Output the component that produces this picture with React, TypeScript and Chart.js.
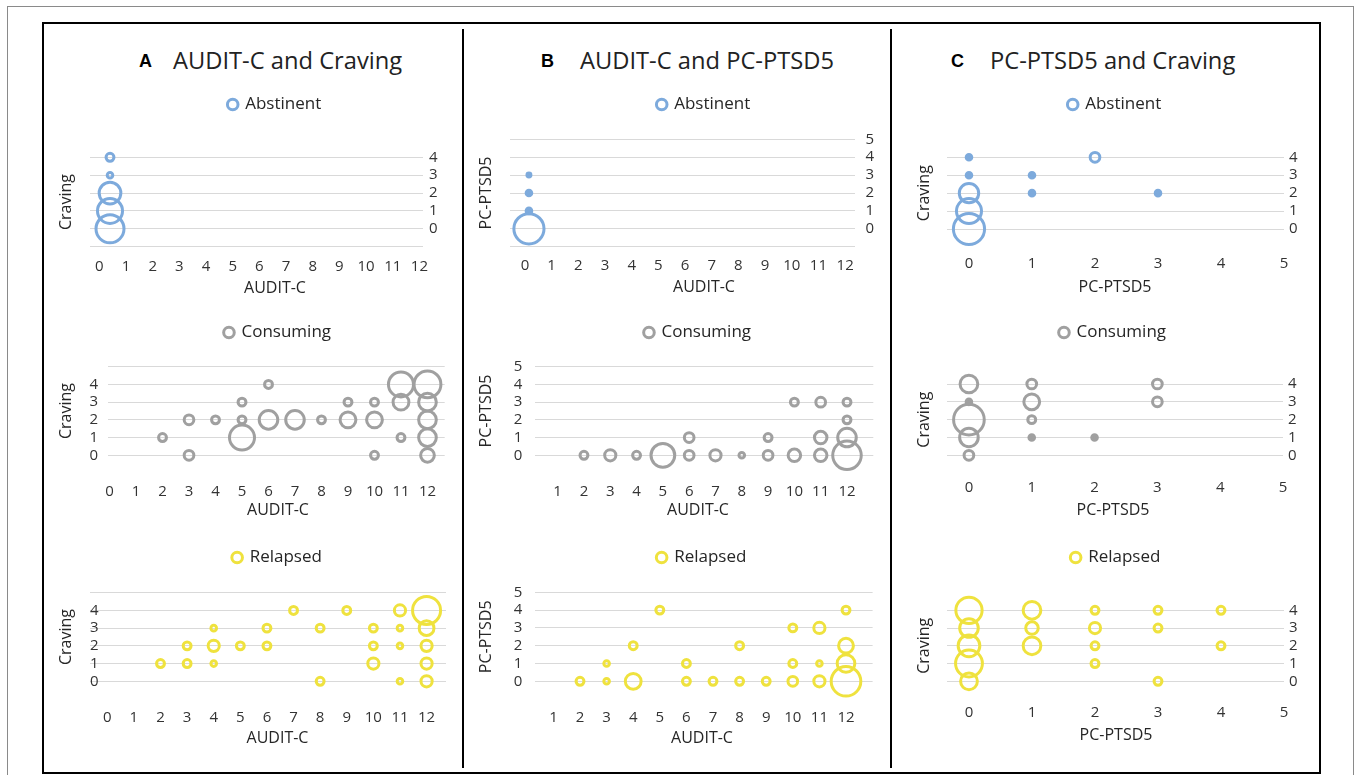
import React, { useEffect, useRef } from "react";
import { Chart, registerables } from "chart.js";

Chart.register(...registerables);

// ---------------- tick values / labels ----------------
const auditTicksA = [0, 1, 2, 3, 4, 5, 6, 7, 8, 9, 10, 11, 12];
const auditTicksB = [1, 2, 3, 4, 5, 6, 7, 8, 9, 10, 11, 12];
const ptsdTicks = [0, 1, 2, 3, 4, 5];
const gridA1 = [-1, 0, 1, 2, 3, 4];
const gridB1 = [-1, 0, 1, 2, 3, 4, 5];
const gridTo5 = [0, 1, 2, 3, 4, 5];
const gridTo4 = [0, 1, 2, 3, 4];
const cravingLabels = [0, 1, 2, 3, 4];
const ptsdLabels = [0, 1, 2, 3, 4, 5];

// ---------------- series (x, y, bubble size) ----------------
// A: AUDIT-C (x) vs Craving (y)
const aAbsX = [0.4, 0.4, 0.4, 0.4, 0.4];
const aAbsY = [4, 3, 2, 1, 0];
const aAbsN = [2, 1, 15, 20, 25];

const aConX = [2, 3, 3, 4, 5, 5, 5, 6, 6, 7, 8, 9, 9, 10, 10, 10, 11, 11, 11, 12, 12, 12, 12, 12];
const aConY = [1, 2, 0, 2, 3, 2, 1, 4, 2, 2, 2, 3, 2, 3, 2, 0, 4, 3, 1, 4, 3, 2, 1, 0];
const aConN = [2, 3, 3, 2, 2, 2, 20, 2, 11, 11, 2, 2, 8, 2, 8, 2, 20, 8, 2, 23, 10, 10, 10, 6];

const aRelX = [2, 3, 3, 4, 4, 4, 5, 6, 6, 7, 8, 8, 9, 10, 10, 10, 11, 11, 11, 11, 12, 12, 12, 12, 12];
const aRelY = [1, 2, 1, 3, 2, 1, 2, 3, 2, 4, 3, 0, 4, 3, 2, 1, 4, 3, 2, 0, 4, 3, 2, 1, 0];
const aRelN = [2, 2, 2, 1, 4, 1, 2, 2, 2, 2, 2, 2, 2, 2, 2, 4, 4, 1, 1, 1, 25, 7, 4, 4, 4];

// B: AUDIT-C (x) vs PC-PTSD5 (y)
const bAbsX = [0.15, 0.15, 0.15, 0.15];
const bAbsY = [3, 2, 1, 0];
const bAbsN = [0.5, 1, 1, 29];

const bConX = [2, 3, 4, 5, 6, 6, 7, 8, 9, 9, 10, 10, 11, 11, 11, 12, 12, 12, 12];
const bConY = [0, 0, 0, 0, 1, 0, 0, 0, 1, 0, 3, 0, 3, 1, 0, 3, 2, 1, 0];
const bConN = [2, 4, 2, 18, 3, 3, 4, 1, 2, 3, 2, 5, 3, 5, 5, 2, 2, 11, 26];

const bRelX = [2, 3, 3, 4, 4, 5, 6, 6, 7, 8, 8, 9, 10, 10, 10, 11, 11, 11, 12, 12, 12, 12];
const bRelY = [0, 1, 0, 2, 0, 4, 1, 0, 0, 2, 0, 0, 3, 1, 0, 3, 1, 0, 4, 2, 1, 0];
const bRelN = [2, 1, 1, 2, 8, 2, 2, 2, 2, 2, 2, 2, 2, 2, 3, 4, 1, 4, 2, 7, 10, 28];

// C: PC-PTSD5 (x) vs Craving (y)
const cAbsX = [0, 0, 0, 0, 0, 1, 1, 2, 3];
const cAbsY = [4, 3, 2, 1, 0, 3, 2, 4, 2];
const cAbsN = [1, 1, 12, 20, 31, 1, 1, 3, 1];

const cConX = [0, 0, 0, 0, 0, 1, 1, 1, 1, 2, 3, 3];
const cConY = [4, 3, 2, 1, 0, 4, 3, 2, 1, 1, 4, 3];
const cConN = [10, 1, 30, 11, 3, 3, 8, 2, 1, 1, 3, 3];

const cRelX = [0, 0, 0, 0, 0, 1, 1, 1, 2, 2, 2, 2, 3, 3, 3, 4, 4];
const cRelY = [4, 3, 2, 1, 0, 4, 3, 2, 4, 3, 2, 1, 4, 3, 0, 4, 2];
const cRelN = [22, 11, 15, 23, 9, 10, 5, 10, 2, 4, 2, 2, 2, 2, 2, 2, 2];

// ---------------- styles ----------------
const BLUE = "#7DAADC";
const GRAY = "#A0A0A0";
const YELLOW = "#EFE23E";
const GRID = "#D9D9D9";
const TEXT = "#262626";
const TICK = "#333333";
const FONT = "'Open Sans', sans-serif";
const FS_TICK = 15;
const FS_TITLE = 16;
const FS_LEG = 17;
const LEG_PAD = 4;
const TITLE_LH = FS_TITLE * 1.2;
const TICK_HALF = (FS_TICK * 1.2) / 2;
const R_K = 2.8; // bubble radius per sqrt(size)
const RING = 3;

Chart.defaults.font.family = FONT;

type Layout = {
  l: number; r: number; t: number; b: number;
  xMin: number; xMax: number;
  side: "left" | "right" | "mirror";
  tickPad: number; yTitleX: number; legendY: number; centerX: number;
  xLabelY: number; xTitleY: number;
};

type PanelCfg = {
  id: string; label: string; color: string;
  xs: number[]; ys: number[]; ns: number[];
  xTicks: number[]; yGrid: number[]; yLabels: number[];
  yMin: number; yMax: number; xTitle: string; yTitle: string;
  solid: boolean; lay: Layout;
};

const PANELS: PanelCfg[] = [
  {
    id: "A1", label: "Abstinent", color: BLUE, xs: aAbsX, ys: aAbsY, ns: aAbsN,
    xTicks: auditTicksA, yGrid: gridA1, yLabels: cravingLabels, yMin: -1, yMax: 4,
    xTitle: "AUDIT-C", yTitle: "Craving", solid: false,
    lay: { l: 90, r: 423.4, t: 157.3, b: 246.7, xMin: -0.35, xMax: 12.15, side: "right", tickPad: 5.5, yTitleX: 67, legendY: 104, centerX: 275, xLabelY: 267, xTitleY: 288 },
  },
  {
    id: "A2", label: "Consuming", color: GRAY, xs: aConX, ys: aConY, ns: aConN,
    xTicks: auditTicksA, yGrid: gridTo5, yLabels: cravingLabels, yMin: 0, yMax: 5,
    xTitle: "AUDIT-C", yTitle: "Craving", solid: false,
    lay: { l: 108.2, r: 444.7, t: 366.7, b: 455.3, xMin: -0.05, xMax: 12.65, side: "left", tickPad: 10, yTitleX: 67, legendY: 332, centerX: 278, xLabelY: 492, xTitleY: 510 },
  },
  {
    id: "A3", label: "Relapsed", color: YELLOW, xs: aRelX, ys: aRelY, ns: aRelN,
    xTicks: auditTicksA, yGrid: gridTo5, yLabels: cravingLabels, yMin: 0, yMax: 5,
    xTitle: "AUDIT-C", yTitle: "Craving", solid: false,
    lay: { l: 90, r: 446, t: 592.7, b: 681.3, xMin: -0.65, xMax: 12.73, side: "mirror", tickPad: 0, yTitleX: 67, legendY: 557, centerX: 277.5, xLabelY: 718, xTitleY: 738 },
  },
  {
    id: "B1", label: "Abstinent", color: BLUE, xs: bAbsX, ys: bAbsY, ns: bAbsN,
    xTicks: auditTicksA, yGrid: gridB1, yLabels: ptsdLabels, yMin: -1, yMax: 5,
    xTitle: "AUDIT-C", yTitle: "PC-PTSD5", solid: true,
    lay: { l: 510, r: 855, t: 139.3, b: 246.7, xMin: -0.56, xMax: 12.37, side: "right", tickPad: 10.5, yTitleX: 487, legendY: 104, centerX: 704, xLabelY: 266, xTitleY: 287 },
  },
  {
    id: "B2", label: "Consuming", color: GRAY, xs: bConX, ys: bConY, ns: bConN,
    xTicks: auditTicksB, yGrid: gridTo5, yLabels: ptsdLabels, yMin: 0, yMax: 5,
    xTitle: "AUDIT-C", yTitle: "PC-PTSD5", solid: false,
    lay: { l: 535.3, r: 873.3, t: 366.7, b: 455.3, xMin: 0.15, xMax: 13, side: "left", tickPad: 13, yTitleX: 487, legendY: 332, centerX: 698, xLabelY: 492, xTitleY: 510 },
  },
  {
    id: "B3", label: "Relapsed", color: YELLOW, xs: bRelX, ys: bRelY, ns: bRelN,
    xTicks: auditTicksB, yGrid: gridTo5, yLabels: ptsdLabels, yMin: 0, yMax: 5,
    xTitle: "AUDIT-C", yTitle: "PC-PTSD5", solid: false,
    lay: { l: 534.8, r: 872.6, t: 592.3, b: 681.3, xMin: 0.3, xMax: 13, side: "left", tickPad: 12.5, yTitleX: 487, legendY: 557, centerX: 702, xLabelY: 718, xTitleY: 738 },
  },
  {
    id: "C1", label: "Abstinent", color: BLUE, xs: cAbsX, ys: cAbsY, ns: cAbsN,
    xTicks: ptsdTicks, yGrid: gridTo4, yLabels: cravingLabels, yMin: 0, yMax: 4,
    xTitle: "PC-PTSD5", yTitle: "Craving", solid: true,
    lay: { l: 947, r: 1284, t: 157.3, b: 229, xMin: -0.349, xMax: 5, side: "right", tickPad: 5, yTitleX: 925, legendY: 104, centerX: 1115, xLabelY: 264, xTitleY: 287 },
  },
  {
    id: "C2", label: "Consuming", color: GRAY, xs: cConX, ys: cConY, ns: cConN,
    xTicks: ptsdTicks, yGrid: gridTo4, yLabels: cravingLabels, yMin: 0, yMax: 4,
    xTitle: "PC-PTSD5", yTitle: "Craving", solid: true,
    lay: { l: 947, r: 1284, t: 384, b: 455.3, xMin: -0.349, xMax: 5, side: "right", tickPad: 5, yTitleX: 925, legendY: 332, centerX: 1113, xLabelY: 488, xTitleY: 510 },
  },
  {
    id: "C3", label: "Relapsed", color: YELLOW, xs: cRelX, ys: cRelY, ns: cRelN,
    xTicks: ptsdTicks, yGrid: gridTo4, yLabels: cravingLabels, yMin: 0, yMax: 4,
    xTitle: "PC-PTSD5", yTitle: "Craving", solid: false,
    lay: { l: 947, r: 1284, t: 610.3, b: 681.3, xMin: -0.349, xMax: 5, side: "right", tickPad: 5, yTitleX: 925, legendY: 557, centerX: 1116, xLabelY: 713, xTitleY: 735 },
  },
];

const HEADINGS = [
  { letter: "A", text: "AUDIT-C and Craving", lx: 139, tx: 173 },
  { letter: "B", text: "AUDIT-C and PC-PTSD5", lx: 541, tx: 580 },
  { letter: "C", text: "PC-PTSD5 and Craving", lx: 951, tx: 990 },
];

function geom(lay: Layout) {
  const cl = Math.round(lay.yTitleX - TITLE_LH / 2);
  const W = Math.round(2 * (lay.centerX - cl));
  const ct = Math.round(lay.legendY - LEG_PAD - FS_LEG / 2);
  const xH = lay.xTitleY - TITLE_LH / 2 - lay.b;
  const needH = lay.b - ct + xH + TITLE_LH;
  const H = Math.ceil(needH);
  return {
    cl, ct, W, H,
    leftW: lay.l - cl,
    rightW: cl + W - lay.r,
    legendH: lay.t - ct,
    xH,
    xPad: lay.xLabelY - lay.b - TICK_HALF,
    padBottom: H - needH,
  };
}

function fixLegendHeight(h: number) {
  return {
    id: "fixLegendHeight",
    afterInit(chart: any) {
      const lg = chart.legend;
      if (!lg) return;
      const orig = lg.fit.bind(lg);
      lg.fit = () => {
        orig();
        lg.height = h;
      };
    },
  };
}

function BubblePanel({ p }: { p: PanelCfg }) {
  const ref = useRef<HTMLCanvasElement | null>(null);
  const g = geom(p.lay);

  useEffect(() => {
    const lay = p.lay;
    const side = lay.side;
    const tickFont = { family: FONT, size: FS_TICK };
    const titleFont = { family: FONT, size: FS_TITLE, weight: "normal" as const };
    const data = p.xs.map((x, i) => ({ x, y: p.ys[i], r: R_K * Math.sqrt(p.ns[i]), n: p.ns[i] }));

    const chart = new Chart(ref.current as HTMLCanvasElement, {
      type: "bubble",
      data: {
        datasets: [
          {
            label: p.label,
            data,
            borderColor: p.color,
            backgroundColor: (ctx: any) =>
              p.solid && ctx.raw && ctx.raw.n <= 1 ? p.color : "rgba(0,0,0,0)",
            borderWidth: RING,
            hoverBorderWidth: RING,
            hoverRadius: 0,
            clip: false as any,
          } as any,
        ],
      },
      options: {
        responsive: false,
        animation: false,
        events: [],
        layout: { autoPadding: false, padding: { left: 0, right: 0, top: 0, bottom: g.padBottom } } as any,
        plugins: {
          tooltip: { enabled: false },
          legend: {
            display: true,
            position: "top",
            align: "center",
            labels: {
              usePointStyle: true,
              pointStyle: "circle",
              boxWidth: 8,
              boxHeight: 7.5,
              padding: LEG_PAD,
              color: TEXT,
              font: { family: FONT, size: FS_LEG },
              generateLabels: (chart: any) =>
                chart.data.datasets.map((ds: any, i: number) => ({
                  text: ds.label,
                  fillStyle: "rgba(0,0,0,0)",
                  strokeStyle: ds.borderColor,
                  lineWidth: RING,
                  pointStyle: "circle",
                  hidden: false,
                  datasetIndex: i,
                  fontColor: TEXT,
                })),
            },
          },
          title: {
            display: true,
            position: "bottom",
            text: p.xTitle,
            padding: 0,
            color: TEXT,
            font: titleFont,
          },
        },
        scales: {
          x: {
            type: "linear",
            position: "bottom",
            min: lay.xMin,
            max: lay.xMax,
            bounds: "data",
            afterBuildTicks: (s: any) => {
              s.ticks = p.xTicks.map((v) => ({ value: v }));
            },
            afterFit: (s: any) => {
              s.height = g.xH;
            },
            grid: { display: false, drawTicks: false },
            border: { display: false },
            ticks: {
              padding: g.xPad,
              autoSkip: false,
              maxRotation: 0,
              minRotation: 0,
              font: tickFont,
              color: TICK,
              callback: (v: any) => String(v),
            },
          },
          y: {
            type: "linear",
            position: side === "right" ? "right" : "left",
            min: p.yMin,
            max: p.yMax,
            bounds: "data",
            afterBuildTicks: (s: any) => {
              s.ticks = p.yGrid.map((v) => ({ value: v }));
            },
            afterFit: (s: any) => {
              s.width = side === "right" ? g.rightW : g.leftW;
            },
            grid: { color: GRID, lineWidth: 1, drawTicks: false },
            border: { display: false },
            ticks: {
              padding: lay.tickPad,
              mirror: side === "mirror",
              autoSkip: false,
              font: tickFont,
              color: TICK,
              callback: (v: any) => (p.yLabels.includes(Number(v)) ? String(v) : ""),
            },
            title: {
              display: side !== "right",
              text: p.yTitle,
              padding: 0,
              color: TEXT,
              font: titleFont,
            },
          },
          y2: {
            type: "linear",
            position: side === "right" ? "left" : "right",
            min: 0,
            max: 1,
            afterFit: (s: any) => {
              s.width = side === "right" ? g.leftW : g.rightW;
            },
            grid: { display: false, drawTicks: false },
            border: { display: false },
            ticks: { display: false },
            title: {
              display: side === "right",
              text: p.yTitle,
              padding: 0,
              color: TEXT,
              font: titleFont,
            },
          },
        } as any,
      },
      plugins: [fixLegendHeight(g.legendH)],
    } as any);

    return () => chart.destroy();
  }, []);

  return (
    <canvas
      ref={ref}
      width={g.W}
      height={g.H}
      style={{ position: "absolute", left: g.cl, top: g.ct, width: g.W, height: g.H }}
    />
  );
}

export default function App() {
  return (
    <div
      style={{
        position: "absolute",
        left: 0,
        top: 0,
        width: 1357,
        height: 775,
        background: "#ffffff",
        overflow: "hidden",
      }}
    >
      {/* outer thin frame */}
      <div
        style={{
          position: "absolute",
          left: 7,
          top: 6,
          width: 1347,
          height: 790,
          border: "1px solid #8a8a8a",
          boxSizing: "border-box",
        }}
      />
      {/* inner black frame */}
      <div
        style={{
          position: "absolute",
          left: 42,
          top: 22,
          width: 1279,
          height: 752,
          border: "2px solid #000",
          boxSizing: "border-box",
        }}
      />
      {/* column dividers */}
      <div style={{ position: "absolute", left: 462, top: 29, width: 2, height: 739, background: "#000" }} />
      <div style={{ position: "absolute", left: 890, top: 29, width: 2, height: 739, background: "#000" }} />

      {HEADINGS.map((h) => (
        <React.Fragment key={h.letter}>
          <div
            style={{
              position: "absolute",
              left: h.lx,
              top: 46,
              lineHeight: "30px",
              fontFamily: "'Liberation Sans', Arial, sans-serif",
              fontWeight: "bold",
              fontSize: 18,
              color: "#000",
              whiteSpace: "nowrap",
            }}
          >
            {h.letter}
          </div>
          <div
            style={{
              position: "absolute",
              left: h.tx,
              top: 45,
              lineHeight: "30px",
              fontFamily: FONT,
              fontSize: 23.7,
              color: "#222",
              whiteSpace: "nowrap",
            }}
          >
            {h.text}
          </div>
        </React.Fragment>
      ))}

      {PANELS.map((p) => (
        <BubblePanel key={p.id} p={p} />
      ))}
    </div>
  );
}
